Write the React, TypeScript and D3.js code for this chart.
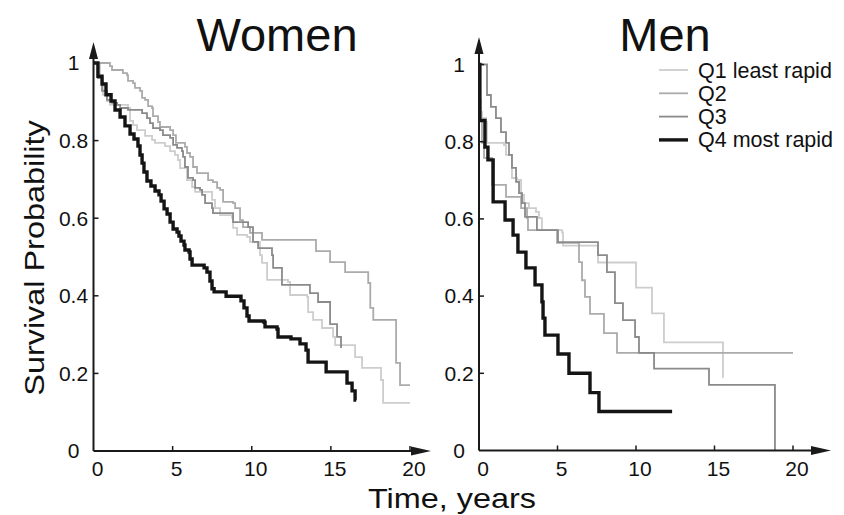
import React from "react";
import * as d3 from "d3";

const xTicks = [0, 5, 10, 15, 20];
const yTicks = [0, 0.2, 0.4, 0.6, 0.8, 1];
const seriesNames = ["Q1 least rapid", "Q2", "Q3", "Q4 most rapid"];
const seriesColors = ["#cdcdcd", "#ababab", "#8a8a8a", "#141414"];
const seriesWidths = [1.8, 1.8, 1.8, 3.4];

const womenQ1 = [[0,1],[0.41,0.961],[0.6,0.918],[0.85,0.902],[1.04,0.892],[2.18,0.884],[2.31,0.851],[2.5,0.84],[2.75,0.827],[3.26,0.812],[3.7,0.802],[3.89,0.794],[4.52,0.786],[4.84,0.773],[5.15,0.763],[5.34,0.75],[5.47,0.729],[5.91,0.698],[6.23,0.68],[6.42,0.668],[7.49,0.647],[7.68,0.626],[8.0,0.608],[8.75,0.601],[8.82,0.575],[9.07,0.557],[9.7,0.552],[9.89,0.539],[10.52,0.505],[10.65,0.485],[10.97,0.441],[12.29,0.436],[12.42,0.402],[13.5,0.397],[13.56,0.358],[13.88,0.338],[14.44,0.317],[15.14,0.294],[15.27,0.273],[16.53,0.242],[16.97,0.214],[18.17,0.183],[18.3,0.124],[20.0,0.124]];
const womenQ2 = [[0,1],[1.04,0.992],[1.17,0.982],[1.86,0.974],[2.12,0.969],[2.18,0.954],[2.5,0.948],[2.62,0.936],[2.94,0.928],[3.07,0.91],[3.26,0.905],[3.45,0.889],[3.7,0.884],[3.76,0.863],[4.08,0.848],[4.2,0.835],[4.84,0.827],[5.03,0.814],[5.21,0.794],[5.78,0.784],[5.91,0.768],[6.1,0.758],[6.29,0.732],[6.54,0.716],[7.24,0.698],[7.55,0.693],[7.81,0.678],[8.0,0.673],[8.19,0.642],[8.82,0.639],[8.95,0.626],[9.26,0.595],[9.45,0.577],[9.89,0.562],[10.65,0.544],[14.06,0.515],[14.95,0.487],[15.9,0.461],[17.36,0.433],[17.49,0.369],[17.68,0.338],[19.12,0.227],[19.37,0.17],[20.0,0.17]];
const womenQ3 = [[0,1],[0.28,0.961],[0.54,0.928],[0.85,0.905],[1.17,0.897],[1.49,0.892],[1.68,0.884],[2.18,0.879],[3.07,0.871],[3.38,0.858],[3.57,0.845],[3.76,0.832],[4.2,0.827],[4.39,0.814],[4.84,0.807],[5.03,0.789],[5.28,0.781],[5.59,0.773],[5.66,0.758],[5.78,0.732],[5.97,0.704],[6.29,0.698],[6.42,0.678],[6.73,0.673],[6.86,0.66],[7.05,0.639],[7.49,0.626],[7.55,0.613],[8.82,0.59],[9.77,0.577],[10.08,0.539],[10.4,0.523],[11.28,0.505],[11.35,0.472],[11.91,0.428],[13.68,0.407],[14.19,0.384],[14.95,0.327],[15.39,0.294],[15.64,0.268],[15.7,0.268]];
const womenQ4 = [[0,1],[0.28,0.966],[0.54,0.946],[0.79,0.918],[1.11,0.902],[1.36,0.879],[1.68,0.861],[1.99,0.838],[2.31,0.817],[2.56,0.804],[2.81,0.786],[2.94,0.763],[3.07,0.742],[3.19,0.719],[3.38,0.696],[3.63,0.683],[3.89,0.67],[4.14,0.66],[4.27,0.644],[4.46,0.624],[4.65,0.611],[4.84,0.59],[5.03,0.572],[5.28,0.564],[5.4,0.554],[5.53,0.541],[5.72,0.531],[5.78,0.518],[6.04,0.513],[6.1,0.495],[6.23,0.479],[6.99,0.472],[7.17,0.461],[7.36,0.438],[7.49,0.418],[7.62,0.41],[8.38,0.399],[9.32,0.387],[9.51,0.369],[9.7,0.348],[9.83,0.335],[10.78,0.332],[10.84,0.32],[11.6,0.314],[11.66,0.294],[12.48,0.289],[13.05,0.276],[13.43,0.26],[13.56,0.229],[14.7,0.204],[16.02,0.175],[16.34,0.155],[16.53,0.131],[16.6,0.131]];

const menQ1 = [[0,1],[0.13,0.877],[0.19,0.861],[0.45,0.851],[0.51,0.797],[1.59,0.791],[1.72,0.766],[2.1,0.706],[2.42,0.701],[2.68,0.662],[2.87,0.641],[3.18,0.628],[3.63,0.618],[3.82,0.602],[4.01,0.571],[5.29,0.565],[5.35,0.531],[7.58,0.487],[10.0,0.422],[11.02,0.355],[11.78,0.28],[15.54,0.19],[15.57,0.19]];
const menQ2 = [[0,1],[0.06,0.908],[0.13,0.856],[0.19,0.797],[0.32,0.758],[0.83,0.688],[1.72,0.657],[2.68,0.628],[3.06,0.602],[3.12,0.571],[4.97,0.538],[6.37,0.488],[6.56,0.441],[6.75,0.398],[7.07,0.354],[7.96,0.304],[8.79,0.253],[20.0,0.253]];
const menQ3 = [[0,1],[0.51,0.921],[0.76,0.89],[1.08,0.861],[1.4,0.825],[1.72,0.797],[1.91,0.766],[2.1,0.732],[2.36,0.696],[2.55,0.667],[2.74,0.641],[2.93,0.605],[3.69,0.571],[5.03,0.54],[7.58,0.506],[8.15,0.462],[8.66,0.382],[9.17,0.338],[9.94,0.294],[10.19,0.253],[11.15,0.212],[14.65,0.17],[18.85,0.0]];
const menQ4 = [[0,1],[0.05,0.855],[0.38,0.786],[0.57,0.753],[0.9,0.644],[1.66,0.597],[2.17,0.558],[2.48,0.514],[2.99,0.473],[3.57,0.429],[4.01,0.385],[4.08,0.343],[4.2,0.299],[5.03,0.25],[5.73,0.2],[7.07,0.15],[7.64,0.101],[12.3,0.101]];

const FONT = "'Liberation Sans', Arial, sans-serif";

type Panel = {
  title: string;
  titleX: number;
  x0: number; x1: number; xArrow: number;
  y0: number; y1: number; yArrow: number;
  series: number[][][];
};

const panels: Panel[] = [
  { title: "Women", titleX: 277, x0: 93.5, x1: 410, xArrow: 431, y0: 451, y1: 63, yArrow: 42, series: [womenQ1, womenQ2, womenQ3, womenQ4] },
  { title: "Men", titleX: 665, x0: 479, x1: 793, xArrow: 831, y0: 450.5, y1: 64.5, yArrow: 37, series: [menQ1, menQ2, menQ3, menQ4] },
];

function PanelView({ p }: { p: Panel }) {
  const x = d3.scaleLinear().domain([0, 20]).range([p.x0, p.x1]);
  const y = d3.scaleLinear().domain([0, 1]).range([p.y0, p.y1]);
  const line = d3.line<number[]>().x((d) => x(d[0])).y((d) => y(d[1])).curve(d3.curveStepAfter);
  const axisColor = "#1a1a1a";
  return (
    <g>
      <text x={p.titleX} y={51} textAnchor="middle" fontSize={47} fontFamily={FONT} fill="#111">{p.title}</text>
      {p.series.map((s, i) => (
        <path key={i} d={line(s) || ""} fill="none" stroke={seriesColors[i]} strokeWidth={seriesWidths[i]} strokeLinejoin="miter" />
      ))}
      <line x1={p.x0} x2={p.xArrow - 12} y1={p.y0} y2={p.y0} stroke={axisColor} strokeWidth={2} />
      <line x1={p.x0} x2={p.x0} y1={p.y0} y2={p.yArrow + 12} stroke={axisColor} strokeWidth={2} />
      <polygon points={`${p.xArrow},${p.y0} ${p.xArrow - 20},${p.y0 - 4.5} ${p.xArrow - 20},${p.y0 + 4.5}`} fill={axisColor} />
      <polygon points={`${p.x0},${p.yArrow} ${p.x0 - 4.5},${p.yArrow + 17} ${p.x0 + 4.5},${p.yArrow + 17}`} fill={axisColor} />
      {xTicks.map((t) => (
        <g key={"x" + t}>
          {t > 0 && <line x1={x(t)} x2={x(t)} y1={p.y0} y2={p.y0 - 5} stroke={axisColor} strokeWidth={1.5} />}
          <text x={x(t) + 4} y={p.y0 + 25} textAnchor="middle" fontSize={21} fontFamily={FONT} fill="#111">{t}</text>
        </g>
      ))}
      {yTicks.map((t) => (
        <g key={"y" + t}>
          {t > 0 && <line x1={p.x0} x2={p.x0 + 5} y1={y(t)} y2={y(t)} stroke={axisColor} strokeWidth={1.5} />}
          <text x={p.x0 - 20} y={y(t)} dy="0.35em" textAnchor="middle" fontSize={21} fontFamily={FONT} fill="#111">{String(t)}</text>
        </g>
      ))}
    </g>
  );
}

export default function App() {
  return (
    <svg width={844} height={515} style={{ position: "absolute", left: 0, top: 0, background: "#fff" }}>
      <rect width={844} height={515} fill="#fff" />
      {panels.map((p) => <PanelView key={p.title} p={p} />)}
      <text transform="translate(44,258) rotate(-90) scale(1.2,1)" textAnchor="middle" fontSize={27} fontFamily={FONT} fill="#111">Survival Probability</text>
      <text transform="translate(452,508) scale(1.2,1)" textAnchor="middle" fontSize={27} fontFamily={FONT} fill="#111">Time, years</text>
      {seriesNames.map((n, i) => (
        <g key={n} transform={`translate(0,${70 + i * 23.3})`}>
          <line x1={659} x2={688} y1={0} y2={0} stroke={seriesColors[i]} strokeWidth={seriesWidths[i]} />
          <text x={698} y={0} dy="0.35em" fontSize={21.5} fontFamily={FONT} fill="#111">{n}</text>
        </g>
      ))}
    </svg>
  );
}
